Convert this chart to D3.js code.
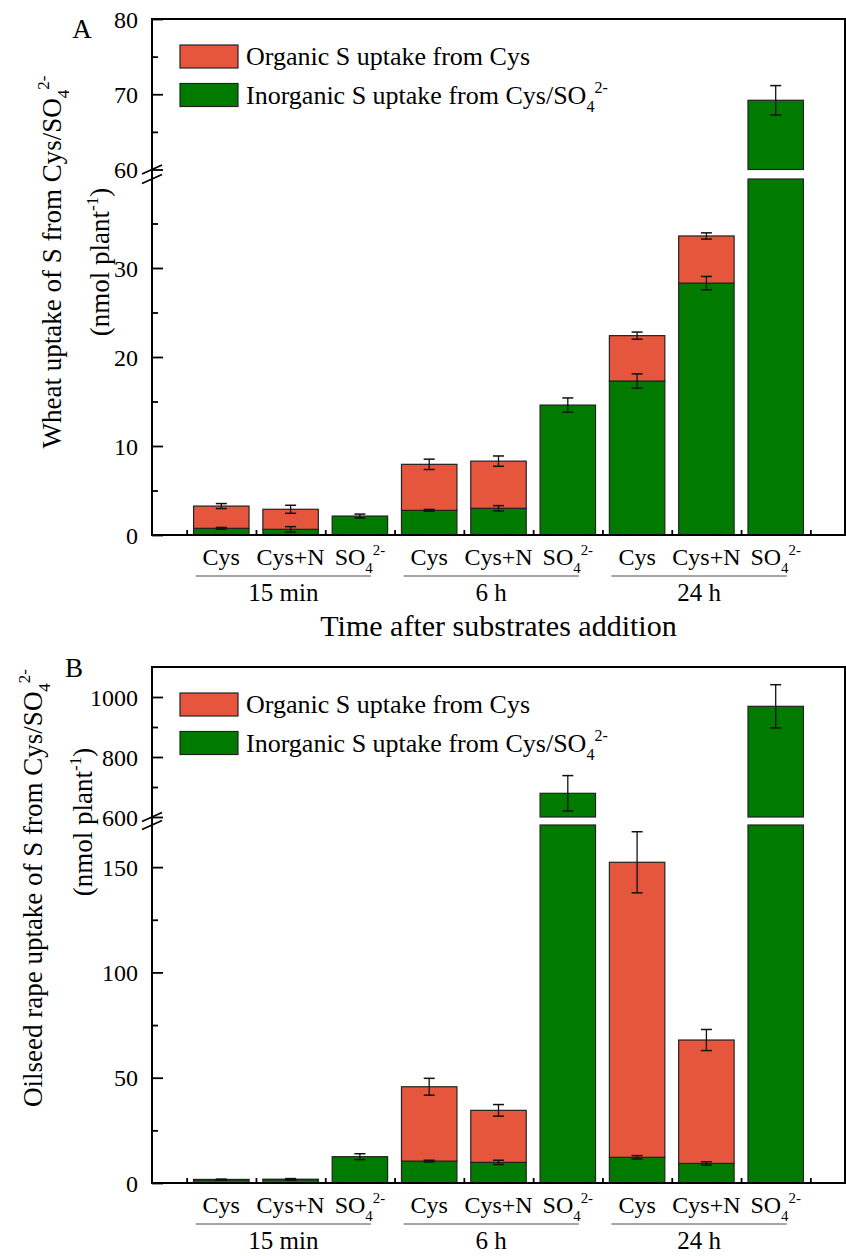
<!DOCTYPE html>
<html><head><meta charset="utf-8">
<script src="https://cdn.jsdelivr.net/npm/d3@7"></script>
<style>
body{margin:0;background:#fff}
svg{display:block}
text{font-family:"Liberation Serif","Times New Roman",serif;fill:#000}
</style>
</head><body>
<svg id="c" width="846" height="1256"></svg>
<script>
// ---------- data ----------
const conditions = ["Cys", "Cys+N", "SO4"];
const timeGroups = ["15 min", "6 h", "24 h"];
const legendNames = ["Organic S uptake from Cys", "Inorganic S uptake from Cys/SO"];

// Panel A: wheat (nmol plant-1)
const wheatInorganic    = [0.75, 0.64, 2.13, 2.77, 3.0, 14.6, 17.3, 28.3, 69.2];
const wheatInorganicErr = [0.1, 0.3, 0.22, 0.1, 0.3, 0.8, 0.8, 0.75, 1.95];
const wheatOrganic      = [2.5, 2.25, 0, 5.17, 5.3, 0, 5.1, 5.3, 0];
const wheatTotalErr     = [0.28, 0.45, 0, 0.58, 0.58, 0, 0.4, 0.35, 0];
const wheatMajorLow  = [0, 10, 20, 30];
const wheatMinorLow  = [5, 15, 25, 35];
const wheatMajorHigh = [60, 70, 80];
const wheatMinorHigh = [65, 75];

// Panel B: oilseed rape (nmol plant-1)
const rapeInorganic    = [1.5, 1.6, 12.5, 10.4, 9.8, 679, 12.2, 9.3, 969];
const rapeInorganicErr = [0.1, 0.2, 1.4, 0.4, 1.0, 59, 0.8, 0.8, 72];
const rapeOrganic      = [0.2, 0.2, 0, 35.3, 24.7, 0, 140.1, 58.6, 0];
const rapeTotalErr     = [0.1, 0.3, 0, 4, 2.75, 0, 14.5, 5, 0];
const rapeMajorLow  = [0, 50, 100, 150];
const rapeMinorLow  = [25, 75, 125];
const rapeMajorHigh = [600, 800, 1000];
const rapeMinorHigh = [700, 900];

// ---------- style ----------
const RED = "#E6563C", GREEN = "#007B00";
const svg = d3.select("#c");
const x = d3.scaleLinear().domain([0, 10]).range([152, 845]);
const barW = x(0.8) - x(0);

function so4(sel, size) {
  sel.append("tspan").text("SO");
  sel.append("tspan").attr("font-size", size * 0.62).attr("dy", size * 0.32).text("4");
  sel.append("tspan").attr("font-size", size * 0.62).attr("dy", -size * 0.75).text("2-");
}

function panel(cfg) {
  const g = svg.append("g");
  const yLow = d3.scaleLinear().domain([0, cfg.lowMax]).range([cfg.yBottom, cfg.yLowTop]);
  const yHigh = d3.scaleLinear().domain([cfg.highMin, cfg.highMax]).range([cfg.yHighBottom, cfg.yTop]);
  const yv = v => v > cfg.lowMax ? yHigh(v) : yLow(v);

  // bars
  const n = cfg.inorg.length;
  for (let i = 0; i < n; i++) {
    const xc = x(i + 1);
    const segs = [{from: 0, to: cfg.inorg[i], c: GREEN}];
    if (cfg.org[i] > 0) segs.push({from: cfg.inorg[i], to: cfg.inorg[i] + cfg.org[i], c: RED});
    segs.forEach(s => {
      const pieces = [];
      if (s.from < cfg.lowMax) pieces.push([yLow(Math.min(s.to, cfg.lowMax)), yLow(s.from)]);
      if (s.to > cfg.highMin) pieces.push([yHigh(s.to), yHigh(Math.max(s.from, cfg.highMin))]);
      pieces.forEach(p => {
        g.append("rect").attr("x", xc - barW / 2).attr("y", p[0])
          .attr("width", barW).attr("height", p[1] - p[0])
          .attr("fill", s.c).attr("stroke", "#222").attr("stroke-width", 1.2);
      });
    });
  }
  // error bars
  for (let i = 0; i < n; i++) {
    const xc = x(i + 1);
    const errs = [[cfg.inorg[i], cfg.inorgErr[i]]];
    if (cfg.org[i] > 0) errs.push([cfg.inorg[i] + cfg.org[i], cfg.totErr[i]]);
    errs.forEach(([v, e]) => {
      if (!e) return;
      const y1 = yv(v + e), y2 = yv(Math.max(v - e, 0));
      g.append("line").attr("x1", xc).attr("x2", xc).attr("y1", y1).attr("y2", y2)
        .attr("stroke", "#111").attr("stroke-width", 1.3);
      [y1, y2].forEach(yy => g.append("line").attr("x1", xc - 5.5).attr("x2", xc + 5.5)
        .attr("y1", yy).attr("y2", yy).attr("stroke", "#111").attr("stroke-width", 1.5));
    });
  }

  // frame
  g.append("rect").attr("x", x(0)).attr("y", cfg.yTop).attr("width", x(10) - x(0))
    .attr("height", cfg.yBottom - cfg.yTop).attr("fill", "none").attr("stroke", "#000").attr("stroke-width", 2);

  // y axes
  function yAxis(scale, major, minor) {
    const a = g.append("g").attr("transform", `translate(${x(0)},0)`)
      .call(d3.axisLeft(scale).tickValues(major).tickSize(-11).tickPadding(14).tickFormat(d3.format("d")));
    a.select(".domain").remove();
    a.attr("font-family", null).attr("font-size", null);
    a.selectAll("line").attr("stroke", "#000").attr("stroke-width", 1.8);
    a.selectAll("text").attr("font-size", 24).attr("dy", "0.34em");
    const b = g.append("g").attr("transform", `translate(${x(0)},0)`)
      .call(d3.axisLeft(scale).tickValues(minor).tickSize(-6).tickFormat(""));
    b.select(".domain").remove();
    b.selectAll("line").attr("stroke", "#000").attr("stroke-width", 1.8);
  }
  yAxis(yLow, cfg.majorLow, cfg.minorLow);
  yAxis(yHigh, cfg.majorHigh, cfg.minorHigh);

  // axis break marks
  [cfg.yHighBottom, cfg.yLowTop].forEach(yy => {
    g.append("line").attr("x1", x(0) - 10).attr("y1", yy + 4.5).attr("x2", x(0) + 10).attr("y2", yy - 4.5)
      .attr("stroke", "#000").attr("stroke-width", 1.8);
  });

  // x axis ticks
  const xa = g.append("g").attr("transform", `translate(0,${cfg.yBottom})`)
    .call(d3.axisBottom(x).tickValues(d3.range(0.5, 10, 1)).tickSize(-5).tickFormat(""));
  xa.select(".domain").remove();
  xa.selectAll("line").attr("stroke", "#000").attr("stroke-width", 1.8);

  // category labels
  for (let i = 0; i < n; i++) {
    const c = conditions[i % 3];
    const t = g.append("text").attr("x", x(i + 1)).attr("y", cfg.yBottom + 30)
      .attr("text-anchor", "middle").attr("font-size", 24);
    if (c === "SO4") so4(t, 24); else t.text(c);
  }
  // group lines + labels
  timeGroups.forEach((tg, k) => {
    const x1 = x(k * 3 + 0.63), x2 = x(k * 3 + 3.16);
    g.append("line").attr("x1", x1).attr("x2", x2).attr("y1", cfg.yBottom + 41).attr("y2", cfg.yBottom + 41)
      .attr("stroke", "#888").attr("stroke-width", 1.5);
    g.append("text").attr("x", (x1 + x2) / 2).attr("y", cfg.yBottom + 66)
      .attr("text-anchor", "middle").attr("font-size", 25).text(tg);
  });

  // legend
  [[legendNames[0], RED], [legendNames[1], GREEN]].forEach(([name, col], k) => {
    const ly = cfg.legendY + k * 38.5;
    g.append("rect").attr("x", 180).attr("y", ly).attr("width", 58).attr("height", 23)
      .attr("fill", col).attr("stroke", "#222").attr("stroke-width", 1.2);
    const t = g.append("text").attr("x", 246).attr("y", ly + 20).attr("font-size", 26);
    t.append("tspan").text(name);
    if (k === 1) {
      t.append("tspan").attr("font-size", 16).attr("dy", 8).text("4");
      t.append("tspan").attr("font-size", 16).attr("dy", -19).text("2-");
    }
  });

  // y title
  const yt = g.append("text").attr("transform", `translate(${cfg.yt1x},${cfg.yt1y}) rotate(-90)`)
    .attr("text-anchor", "middle").attr("font-size", 27);
  yt.append("tspan").text(cfg.yTitle + " from Cys/SO");
  yt.append("tspan").attr("font-size", 17).attr("dy", 8).text("4");
  yt.append("tspan").attr("font-size", 17).attr("dy", -20).text("2-");
  const yt2 = g.append("text").attr("transform", `translate(${cfg.yt2x},${cfg.yt2y}) rotate(-90)`)
    .attr("text-anchor", "middle").attr("font-size", 27);
  yt2.append("tspan").text("(nmol plant");
  yt2.append("tspan").attr("font-size", 17).attr("dy", -11).text("-1");
  yt2.append("tspan").attr("dy", 11).text(")");

  // panel letter
  g.append("text").attr("x", cfg.letterX).attr("y", cfg.letterY).attr("font-size", 27)
    .attr("text-anchor", "middle").text(cfg.letter);
}

panel({
  inorg: wheatInorganic, inorgErr: wheatInorganicErr, org: wheatOrganic, totErr: wheatTotalErr,
  lowMax: 40, highMin: 60, highMax: 80,
  yBottom: 535, yLowTop: 179, yHighBottom: 169.5, yTop: 19,
  majorLow: wheatMajorLow, minorLow: wheatMinorLow, majorHigh: wheatMajorHigh, minorHigh: wheatMinorHigh,
  legendY: 45, yTitle: "Wheat uptake of S",
  yt1x: 61, yt1y: 262, yt2x: 109, yt2y: 262,
  letter: "A", letterX: 82, letterY: 38
});

panel({
  inorg: rapeInorganic, inorgErr: rapeInorganicErr, org: rapeOrganic, totErr: rapeTotalErr,
  lowMax: 170, highMin: 600, highMax: 1100,
  yBottom: 1183, yLowTop: 825, yHighBottom: 817, yTop: 667,
  majorLow: rapeMajorLow, minorLow: rapeMinorLow, majorHigh: rapeMajorHigh, minorHigh: rapeMinorHigh,
  legendY: 693, yTitle: "Oilseed rape uptake of S",
  yt1x: 42, yt1y: 888, yt2x: 92, yt2y: 822,
  letter: "B", letterX: 74, letterY: 677
});

// x-axis title (panel A)
svg.append("text").attr("x", (x(0) + x(10)) / 2).attr("y", 636).attr("text-anchor", "middle")
  .attr("font-size", 30).text("Time after substrates addition");
</script>
</body></html>
